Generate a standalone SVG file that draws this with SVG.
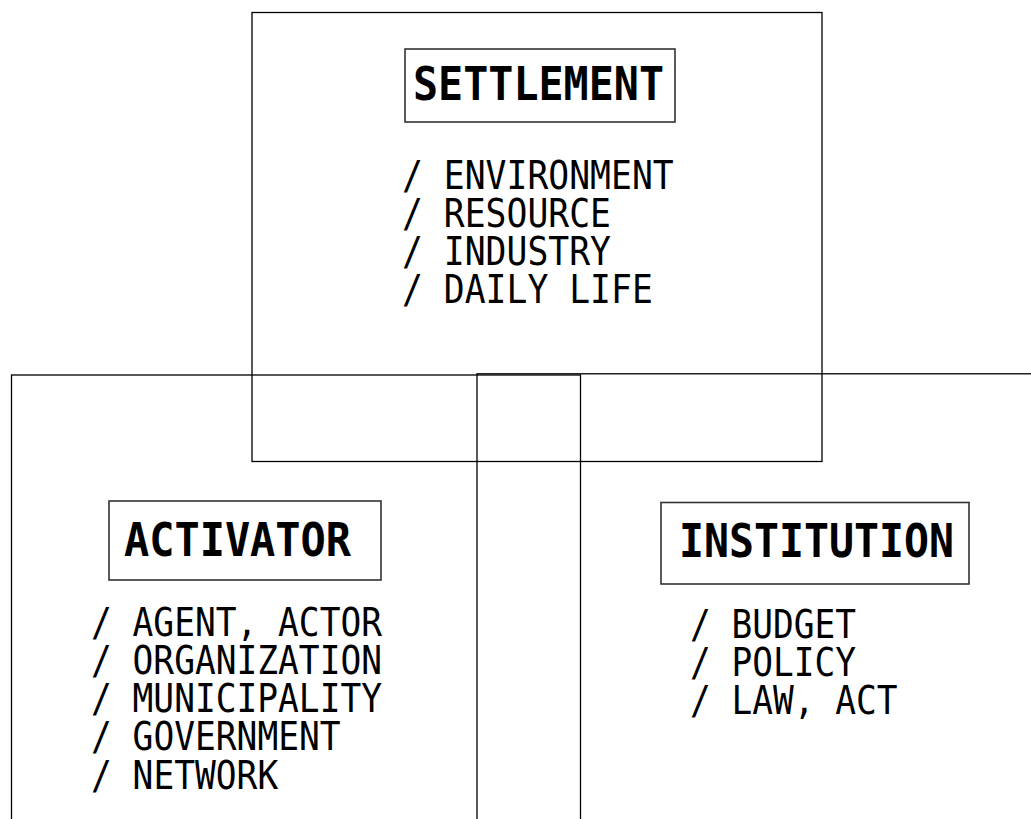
<svg xmlns="http://www.w3.org/2000/svg" width="1031" height="819" viewBox="0 0 1031 819">
<style>
.frame{fill:none;stroke:#000;stroke-width:1.3}
.lbox{fill:#fff;stroke:#333;stroke-width:1.6}
.title{font-family:"DejaVu Sans Mono",monospace;font-weight:bold;font-size:47px;fill:#000}
.item{font-family:"DejaVu Sans Mono",monospace;font-size:39px;fill:#000}
</style>
<rect width="1031" height="819" fill="#fff"/>
<g id="settlement">
<rect class="frame" x="252" y="12.5" width="570" height="449"/>
<rect class="lbox" x="405" y="49" width="270" height="73"/>
<text class="title" x="413" y="100" textLength="251" lengthAdjust="spacingAndGlyphs">SETTLEMENT</text>
<text class="item"><tspan x="402" y="189" textLength="271.7" lengthAdjust="spacingAndGlyphs">/ ENVIRONMENT</tspan><tspan x="402" y="227" textLength="209" lengthAdjust="spacingAndGlyphs">/ RESOURCE</tspan><tspan x="402" y="265" textLength="209" lengthAdjust="spacingAndGlyphs">/ INDUSTRY</tspan><tspan x="402" y="303" textLength="250.8" lengthAdjust="spacingAndGlyphs">/ DAILY LIFE</tspan></text>
</g>
<g id="activator">
<rect class="frame" x="11.5" y="375" width="569" height="500"/>
<rect class="lbox" x="109" y="501" width="272" height="79"/>
<text class="title" x="124" y="556" textLength="227" lengthAdjust="spacingAndGlyphs">ACTIVATOR</text>
<text class="item"><tspan x="91" y="636" textLength="291" lengthAdjust="spacingAndGlyphs">/ AGENT, ACTOR</tspan><tspan x="91" y="674" textLength="291" lengthAdjust="spacingAndGlyphs">/ ORGANIZATION</tspan><tspan x="91" y="712" textLength="291" lengthAdjust="spacingAndGlyphs">/ MUNICIPALITY</tspan><tspan x="91" y="750" textLength="249.6" lengthAdjust="spacingAndGlyphs">/ GOVERNMENT</tspan><tspan x="91" y="789" textLength="187.2" lengthAdjust="spacingAndGlyphs">/ NETWORK</tspan></text>
</g>
<g id="institution">
<rect class="frame" x="477" y="373.8" width="600" height="500"/>
<rect class="lbox" x="661" y="502.5" width="308" height="81.5"/>
<text class="title" x="679" y="557" textLength="275" lengthAdjust="spacingAndGlyphs">INSTITUTION</text>
<text class="item"><tspan x="690" y="638" textLength="166" lengthAdjust="spacingAndGlyphs">/ BUDGET</tspan><tspan x="690" y="676" textLength="166" lengthAdjust="spacingAndGlyphs">/ POLICY</tspan><tspan x="690" y="714" textLength="207.5" lengthAdjust="spacingAndGlyphs">/ LAW, ACT</tspan></text>
</g>
<g id="connectors"/>
</svg>
